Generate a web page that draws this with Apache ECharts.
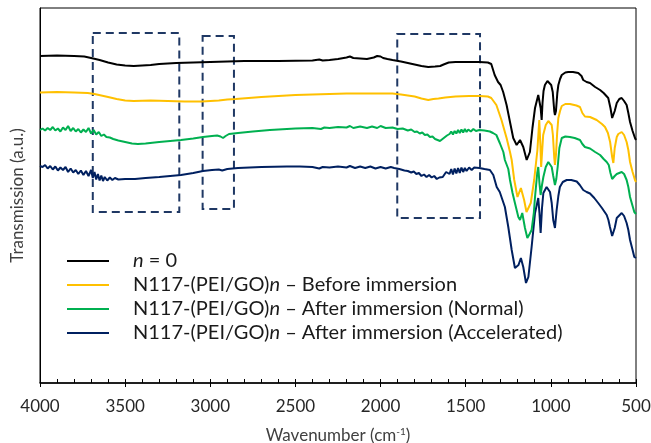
<!DOCTYPE html>
<html>
<head>
<meta charset="utf-8">
<script src="https://cdn.jsdelivr.net/npm/echarts@6/dist/echarts.min.js"></script>
<style>
  html,body{margin:0;padding:0;background:#fff;}
  #chart{width:651px;height:443px;}
</style>
</head>
<body>
<div id="chart"></div>
<script>
// [wavenumber, transmission (a.u., offset)]
const nZero = [[4000,327],[3900,327.5],[3800,327],[3740,326.5],[3700,325],[3650,323],[3600,320.5],[3550,318.5],[3500,317.5],[3450,317],[3400,317.5],[3350,318],[3300,319],[3200,320],[3100,320.5],[3000,321],[2900,321.5],[2800,322],[2600,322],[2400,322.5],[2360,323.5],[2340,322.5],[2300,323],[2250,324],[2200,325.5],[2180,326.5],[2160,325],[2120,324.5],[2080,324],[2040,325.5],[2020,327],[2010,325.5],[2000,326.5],[1985,325],[1960,324],[1930,323],[1880,321.5],[1840,320],[1800,318.5],[1760,317],[1720,316],[1680,316.5],[1650,317],[1630,318.5],[1600,320.5],[1560,321],[1500,321],[1420,321],[1370,320.5],[1350,319],[1330,308],[1310,301],[1295,298],[1280,291],[1260,278],[1240,261],[1221,245],[1201,238],[1181,243],[1162,236],[1142,223],[1123,231],[1108,255],[1093,275],[1074,288],[1066,290],[1060,275],[1054,263],[1049,280],[1043,292],[1035,298],[1020,302],[1009,303],[998,298],[989,291],[980,272],[976,268],[970,272],[962,290],[956,298],[946,304],[936,308],[915,310.5],[898,311],[870,311],[839,310],[820,307],[810,303],[790,301],[770,300],[740,296],[711,293],[690,290],[663,285],[650,275],[640,265],[633,263],[625,272],[613,280],[598,284],[584,285],[570,282],[555,278],[545,270],[535,261],[520,252],[506,245],[500,243]];

const beforeImm = [[4000,290.5],[3900,291],[3800,290.5],[3720,290],[3680,289],[3640,287.5],[3600,286],[3550,284],[3500,282.5],[3450,282],[3350,282.5],[3250,282],[3150,281.5],[3050,281.5],[3000,282],[2950,282.5],[2900,283.5],[2850,284],[2700,286],[2600,287],[2500,288],[2400,288.5],[2300,289],[2200,289.5],[2100,289.5],[2000,289.5],[1930,289.5],[1880,288.5],[1840,287.5],[1800,286.5],[1760,284.5],[1720,283],[1690,284],[1660,284.5],[1620,285.5],[1560,286.5],[1480,287],[1420,287],[1370,286.5],[1350,285],[1320,278],[1290,263],[1260,245],[1240,231],[1230,223],[1215,203],[1196,186],[1176,195],[1157,183],[1143,171],[1118,180],[1098,203],[1079,233],[1068,263],[1062,240],[1057,216],[1050,235],[1045,248],[1030,258],[1015,262],[1004,263],[995,258],[988,248],[980,225],[976,218],[970,228],[963,250],[956,265],[946,272],[936,277],[915,279],[888,279],[850,277.5],[829,276],[815,270],[800,266.5],[770,266],[731,263],[700,259],[682,256],[665,250],[652,241],[640,226],[633,220],[625,235],[613,246],[604,249],[584,251],[570,248],[555,241],[545,233],[535,221],[520,211],[506,203],[500,201]];

const afterNormal = [[4000,253],[3985,254.5],[3970,252.5],[3955,255],[3940,253],[3925,256],[3910,252.5],[3895,254.5],[3880,251.5],[3865,255.5],[3850,253],[3835,257],[3820,252],[3805,255],[3790,251.5],[3775,254],[3760,250.5],[3745,253.5],[3730,251],[3715,255],[3700,249.5],[3685,253],[3670,248.5],[3655,251],[3640,247],[3625,248.5],[3610,246],[3590,245.5],[3570,244],[3540,242.5],[3500,241],[3460,239.5],[3425,239],[3380,239.5],[3300,241],[3172,243],[3100,244.5],[3043,246],[2990,247],[2960,247.5],[2940,246.5],[2925,245],[2910,247],[2890,249],[2837,250],[2750,251.5],[2650,253],[2500,254.5],[2400,255],[2350,254],[2330,255.5],[2300,255],[2250,256],[2200,255.5],[2180,257],[2160,255],[2120,256.5],[2080,255],[2050,256.5],[2020,255],[2000,257],[1970,255],[1930,255.5],[1900,254],[1870,254.5],[1840,252.5],[1820,253.5],[1800,251],[1786,251.5],[1770,249.5],[1755,250.5],[1740,248],[1725,248.5],[1710,246],[1695,246.5],[1680,244],[1665,243],[1651,242],[1640,243.5],[1625,245.5],[1610,247.5],[1595,249],[1585,251.5],[1575,248.5],[1565,252],[1555,249.5],[1545,253],[1535,250],[1525,253.5],[1515,250.5],[1505,254],[1495,251],[1485,253.5],[1470,251.5],[1455,254],[1440,252],[1420,253],[1390,252.5],[1358,251.5],[1340,250],[1320,248],[1300,240],[1279,231],[1270,223],[1250,214],[1240,203],[1225,190],[1211,180],[1191,166],[1181,163],[1168,170],[1152,155],[1138,145],[1125,149],[1113,153],[1100,170],[1093,186],[1080,210],[1074,216],[1067,200],[1060,188],[1052,198],[1044,206],[1030,216],[1015,221],[1005,219],[995,216],[986,207],[976,198],[968,204],[960,216],[950,235],[936,245],[915,246.5],[888,246],[860,245],[829,243],[815,239],[800,236],[770,234.5],[740,231],[711,228],[690,224],[672,221],[660,218],[650,210],[640,204],[633,203],[625,207],[613,209],[604,210],[584,211],[570,209],[555,203],[545,196],[535,186],[520,177],[510,171],[500,169]];

const afterAccel = [[4000,217],[3985,216],[3970,218],[3955,214.5],[3940,217],[3925,213.5],[3910,216.5],[3895,212.5],[3880,215.5],[3865,213],[3850,216],[3835,211],[3820,214.5],[3805,210.5],[3790,213],[3775,209],[3760,212.5],[3745,208],[3730,212],[3715,207],[3700,213],[3690,205],[3680,211],[3670,203.5],[3660,209],[3650,202.5],[3640,207.5],[3630,202],[3620,206],[3605,202.5],[3590,205.5],[3575,203],[3560,205],[3540,203.5],[3500,204],[3442,204],[3380,205],[3300,206],[3172,208],[3100,210],[3043,212],[2990,213],[2950,213.5],[2930,212.5],[2900,214],[2837,215],[2700,216],[2550,216.5],[2474,216.5],[2400,216],[2360,214.5],[2340,216],[2300,215.5],[2250,216.5],[2200,215.5],[2180,217],[2150,215],[2120,216.5],[2090,215],[2060,216.5],[2030,214.5],[2000,216],[1970,214.5],[1940,216],[1920,215],[1890,214],[1860,212.5],[1840,212],[1820,210.5],[1805,211.5],[1790,209],[1775,210],[1760,207],[1745,208.5],[1730,206],[1715,208],[1700,205.5],[1685,207],[1670,204],[1655,205.5],[1645,203.5],[1635,206],[1625,208.5],[1615,211],[1605,213],[1595,209],[1585,214],[1575,208.5],[1565,214.5],[1555,209.5],[1545,215],[1535,210],[1525,215.5],[1515,211],[1505,215],[1495,212],[1480,215.5],[1465,213],[1450,215.5],[1420,215],[1390,214],[1358,213],[1338,208],[1318,196],[1300,191],[1289,189.5],[1270,176],[1250,156],[1230,133],[1211,115],[1201,113],[1190,118],[1176,125],[1162,116],[1146,100],[1132,106],[1113,136],[1093,170],[1074,185],[1067,170],[1060,150],[1052,175],[1044,190],[1025,196],[1005,191],[995,180],[986,163],[976,155],[966,173],[956,187],[947,196],[930,201],[907,203],[880,203],[848,201.5],[830,198],[810,193],[790,191],[770,189.5],[745,185],[722,180],[700,175],[672,168],[662,163],[653,156],[640,147],[633,145],[625,155],[613,165],[604,167],[584,170],[570,167],[555,160],[545,153],[535,143],[520,133],[510,126],[500,125]];

const names = ['n = 0', 'N117-(PEI/GO)n \u2013 Before immersion', 'N117-(PEI/GO)n \u2013 After immersion (Normal)', 'N117-(PEI/GO)n \u2013 After immersion (Accelerated)'];
const colors = ['#000000', '#FFC000', '#00B050', '#002060'];
const spectra = [nZero, beforeImm, afterNormal, afterAccel];

// dashed boxes: [wn from, wn to, top, bottom]
const boxes = [[3690,3182,350,171],[3045,2861,347,174],[1902,1416,349,165]];

const chart = echarts.init(document.getElementById('chart'));

let series = spectra.map((d, i) => ({
  name: names[i],
  type: 'line',
  data: d,
  xAxisIndex: 0,
  symbol: 'none',
  showSymbol: false,
  color: colors[i],
  lineStyle: {color: colors[i], width: 2},
  z: 10 - i
}));
series[0].markArea = {
  silent: true,
  label: {show: false},
  itemStyle: {color: 'rgba(0,0,0,0)', borderColor: '#1F3864', borderWidth: 2, borderType: [8,5]},
  data: boxes.map(b => [{xAxis: b[0], yAxis: b[2]}, {xAxis: b[1], yAxis: b[3]}])
};

let option = {
  animation: false,
  textStyle: {fontFamily: 'Lato'},
  grid: {left: 40, right: 15, top: 8, bottom: 60, show: true, borderColor: '#000', borderWidth: 1, outerBoundsMode: 'none', containLabel: false},
  legend: {
    orient: 'vertical',
    left: 67,
    top: 251,
    padding: 0,
    itemGap: 4,
    itemWidth: 42,
    itemHeight: 2,
    icon: 'rect',
    data: names,
    formatter: name => '{s| }' + name.replace(/^n /, '{i|n} ').replace(')n ', '){i|n} '),
    textStyle: {
      fontSize: 20, color: '#1a1a1a', lineHeight: 20,
      rich: {
        s: {width: 19, fontSize: 20, lineHeight: 20},
        i: {fontStyle: 'italic', fontSize: 20, lineHeight: 20, color: '#1a1a1a'}
      }
    }
  },
  xAxis: [{
    type: 'value',
    min: 500, max: 4000, interval: 500,
    inverse: true,
    position: 'bottom',
    name: 'Wavenumber (cm{sup|-1})',
    nameLocation: 'middle',
    nameGap: 44,
    nameTextStyle: {
      fontSize: 17, color: '#404040', lineHeight: 18,
      rich: {sup: {fontSize: 10, verticalAlign: 'top', lineHeight: 18, color: '#404040'}}
    },
    axisLine: {lineStyle: {color: '#000', width: 1.5}},
    axisTick: {length: 4, lineStyle: {color: '#000', width: 1}},
    axisLabel: {margin: 15, fontSize: 17, color: '#262626', formatter: v => String(v)},
    splitLine: {show: false}
  }, {
    type: 'value',
    min: 500, max: 4000, interval: 500,
    inverse: true,
    position: 'bottom',
    axisLine: {show: false},
    axisLabel: {show: false},
    axisTick: {inside: true, length: 4, lineStyle: {color: '#000', width: 1}},
    minorTick: {show: true, splitNumber: 5, length: 4, lineStyle: {color: '#000', width: 1}},
    splitLine: {show: false}
  }],
  yAxis: {
    type: 'value',
    min: 0, max: 375,
    name: 'Transmission (a.u.)',
    nameLocation: 'middle',
    nameGap: 14,
    nameTextStyle: {fontSize: 17, color: '#404040'},
    axisLine: {show: true, lineStyle: {color: '#000', width: 1}},
    axisTick: {show: false},
    axisLabel: {show: false},
    splitLine: {show: false}
  },
  series: series
};

chart.setOption(option);
</script>
</body>
</html>
